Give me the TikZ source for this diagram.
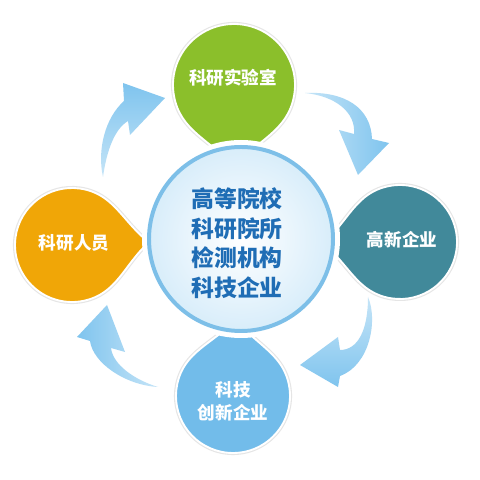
\documentclass[tikz,border=0pt]{standalone}
\usepackage{fontspec}
\setmainfont{Noto Sans CJK SC}
\usetikzlibrary{calc}

\definecolor{labgreen}{HTML}{8BBF2B}
\definecolor{staffgold}{HTML}{F0A607}
\definecolor{firmteal}{HTML}{41899A}
\definecolor{innovblue}{HTML}{72BCEA}
\definecolor{flowblue}{HTML}{7FC4EE}
\definecolor{hubline}{HTML}{7DBFE8}
\definecolor{hubfill}{HTML}{D8EDFA}
\definecolor{hubtext}{HTML}{1F6DB5}

\tikzset{
  dropshadow/.style={draw=black!10, line width=3.5pt},
  drop/.style={draw=white, line width=1.6pt},
  flow/.style={shade},
  droptext/.style={text=white, font=\bfseries\fontsize{15}{19.5}\selectfont, align=center},
  hub/.style={circle, minimum size=5.52cm, draw=hubline, line width=3.4pt,
    inner color=white, outer color=hubfill},
  hubtext/.style={text=hubtext, font=\bfseries\fontsize{19.5}{25.3}\selectfont, align=center},
}

% teardrop: centre, tip angle, radius, options
\newcommand{\teardrop}[4]{%
  \path[#4] ($(#1)+(#2+80:#3)$) arc[start angle=#2+80, end angle=#2+280, radius=#3]
    to[out=#2+10, in=#2-140] ($(#1)+(#2:1.35*#3)$)
    to[out=#2+140, in=#2-10] ($(#1)+(#2+80:#3)$) -- cycle;}

\begin{document}
\begin{tikzpicture}[x=0.03cm, y=0.03cm]
  \useasboundingbox (0,0) rectangle (480,480);
  \fill[white] (0,0) rectangle (480,480);

  \coordinate (labc) at (234,395);
  \coordinate (staffc) at (72,235);
  \coordinate (firmc) at (400,238);
  \coordinate (innovc) at (233,84);

  % curved arrows
  \path[flow, left color=flowblue!45, right color=flowblue]
    (305,387) .. controls (345,389) and (371,372) .. (372,341)
    -- (389,337) -- (358,305) -- (339,350) -- (354,346)
    .. controls (356,368) and (335,384) .. (305,387) -- cycle;
  \path[flow, top color=flowblue!45, bottom color=flowblue]
    (368,183) .. controls (378,160) and (370,115) .. (340,104)
    -- (338,93) -- (300,115) -- (338,143) -- (340,130)
    .. controls (358,130) and (368,150) .. (368,183) -- cycle;
  \path[flow, right color=flowblue!45, left color=flowblue]
    (158,93) .. controls (125,95) and (93,117) .. (90,139)
    -- (77,143) -- (107,175) -- (125,128) -- (111,132)
    .. controls (113,115) and (135,100) .. (158,93) -- cycle;
  \path[flow, bottom color=flowblue!45, top color=flowblue]
    (103,303) .. controls (97,330) and (105,362) .. (124,379)
    -- (123,397) -- (165,382) -- (130,345) -- (128,359)
    .. controls (113,350) and (106,325) .. (103,303) -- cycle;

  % drops
  \teardrop{labc}{-90}{61}{dropshadow}
  \teardrop{labc}{-90}{61}{drop, fill=labgreen}
  \teardrop{staffc}{2}{57}{dropshadow}
  \teardrop{staffc}{2}{57}{drop, fill=staffgold}
  \teardrop{firmc}{181}{57}{dropshadow}
  \teardrop{firmc}{181}{57}{drop, fill=firmteal}
  \teardrop{innovc}{88}{57}{dropshadow}
  \teardrop{innovc}{88}{57}{drop, fill=innovblue}

  \node[droptext] (lab) at (233,402) {科研实验室};
  \node[droptext] (staff) at (74,237) {科研人员};
  \node[droptext] (firm) at (402,240) {高新企业};
  \node[droptext] (innov) at (233,79) {科技\\创新企业};

  % centre
  \fill[white] (241,241) circle[radius=99];
  \node[hub] (hub) at (241,241) {};
  \node[hubtext] (inst) at (237,237) {高等院校\\科研院所\\检测机构\\科技企业};
\end{tikzpicture}
\end{document}
